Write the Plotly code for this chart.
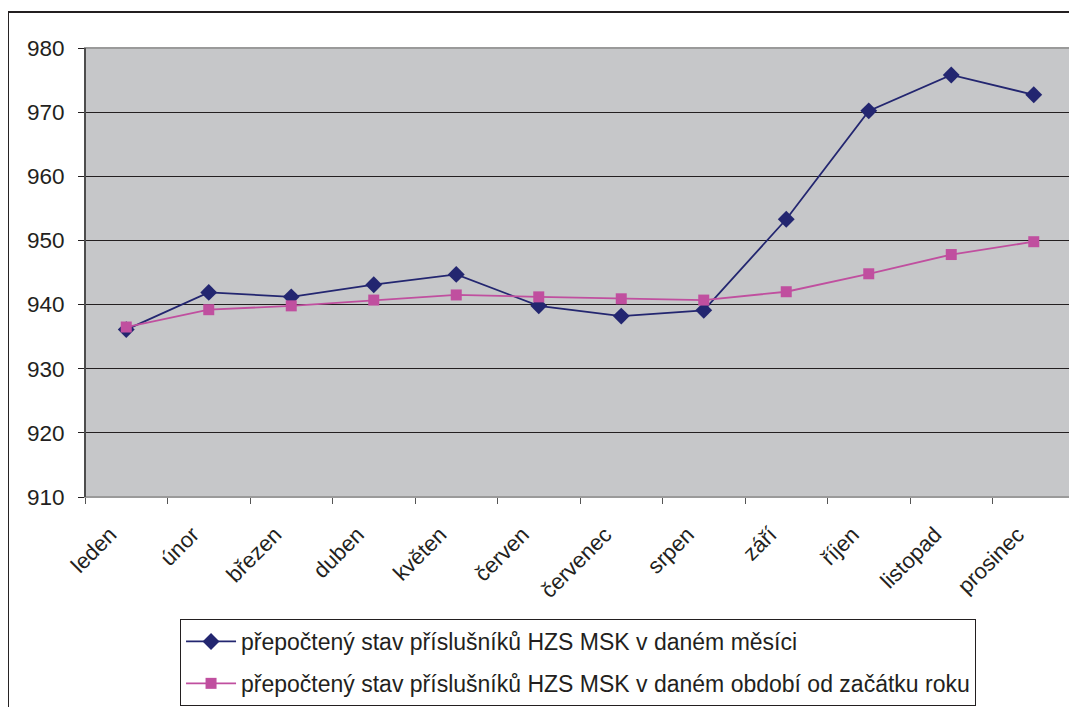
import plotly.graph_objects as go

months = ["leden", "únor", "březen", "duben", "květen", "červen",
          "červenec", "srpen", "září", "říjen", "listopad", "prosinec"]
monthly = [936.1, 941.9, 941.2, 943.1, 944.7, 939.8, 938.2, 939.1, 953.3, 970.2, 975.8, 972.7]
ytd = [936.5, 939.2, 939.8, 940.7, 941.5, 941.2, 940.9, 940.7, 942.0, 944.8, 947.8, 949.8]
name_monthly = "přepočtený stav příslušníků HZS MSK v daném měsíci"
name_ytd = "přepočtený stav příslušníků HZS MSK v daném období od začátku roku"

FONT = "Arial, Liberation Sans, sans-serif"
TXT = "#231f20"

fig = go.Figure()
fig.add_trace(go.Scatter(
    x=months, y=monthly, name=name_monthly, mode="lines+markers",
    line=dict(color="#232670", width=1.8),
    marker=dict(symbol="diamond", size=13, color="#232670"),
    legendgroup="a",
))
fig.add_trace(go.Scatter(
    x=months, y=ytd, name=name_ytd, mode="lines+markers",
    line=dict(color="#c04f9f", width=1.8),
    marker=dict(symbol="square", size=11, color="#c04f9f"),
    legendgroup="b",
))

fig.update_layout(
    width=1069, height=699,
    margin=dict(l=77, r=2, t=40, b=210, autoexpand=False),
    paper_bgcolor="white",
    plot_bgcolor="#c6c7c9",
    font=dict(family=FONT, size=22, color=TXT),
    showlegend=True,
    legend=dict(
        x=0.096, y=-0.2717, xanchor="left", yanchor="top",
        bordercolor="#231f20", borderwidth=1,
        font=dict(family=FONT, size=23, color=TXT),
        tracegroupgap=9, itemwidth=50,
        bgcolor="white",
    ),
    xaxis=dict(
        type="category", tickangle=-45, tickson="boundaries",
        ticks="outside", ticklen=6, tickcolor="#555",
        showgrid=False, showline=True, linecolor="#555", linewidth=1,
        tickfont=dict(family=FONT, size=22, color=TXT),
        range=[-0.5, 11.5], automargin=False,
        ticklabelstandoff=15, ticklabelshift=-16,
    ),
    yaxis=dict(
        range=[910, 980], dtick=10, tick0=910,
        ticks="outside", ticklen=6, tickcolor="#231f20",
        showgrid=True, gridcolor="#231f20", gridwidth=1,
        showline=True, linecolor="#333", linewidth=1,
        tickfont=dict(family=FONT, size=22.5, color=TXT),
        zeroline=False, automargin=False, ticklabelstandoff=9,
    ),
    shapes=[
        dict(type="rect", xref="paper", yref="paper", x0=0, x1=1, y0=0, y1=1,
             line=dict(color="#9a9a9a", width=2), fillcolor="rgba(0,0,0,0)", layer="above"),
        dict(type="line", xref="paper", yref="paper", x0=0, x1=0, y0=0, y1=1,
             line=dict(color="#333", width=1.5), layer="above"),
        dict(type="rect", xref="paper", yref="paper", x0=-0.0778, x1=1.2, y0=-0.6, y1=1.0802,
             line=dict(color="#231f20", width=2), fillcolor="rgba(0,0,0,0)", layer="below"),
    ],
)

fig.write_html("out.html")
